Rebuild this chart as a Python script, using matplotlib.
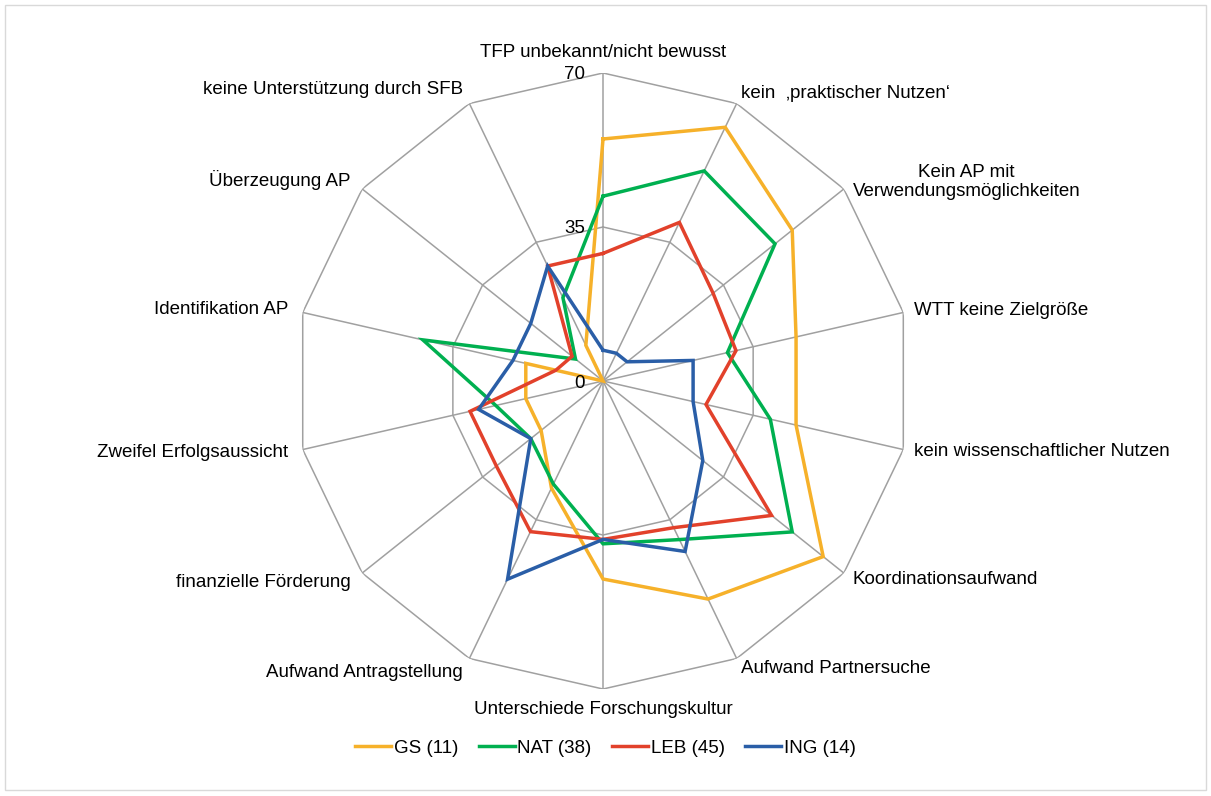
import numpy as np
import matplotlib
matplotlib.use('Agg')
import matplotlib.pyplot as plt
from matplotlib.patches import Rectangle
from matplotlib.transforms import offset_copy

plt.rcParams['font.family'] = ['Liberation Sans', 'DejaVu Sans']

categories = [
    'TFP unbekannt/nicht bewusst',
    'kein  \u201apraktischer Nutzen\u2018',
    'Kein AP mit\nVerwendungsmöglichkeiten',
    'WTT keine Zielgröße',
    'kein wissenschaftlicher Nutzen',
    'Koordinationsaufwand',
    'Aufwand Partnersuche',
    'Unterschiede Forschungskultur',
    'Aufwand Antragstellung',
    'finanzielle Förderung',
    'Zweifel Erfolgsaussicht',
    'Identifikation AP',
    'Überzeugung AP',
    'keine Unterstützung durch SFB',
]

gs = [55, 64, 55, 45, 45, 64, 55, 45, 27, 18, 18, 18, 0, 9]
nat = [42, 53, 50, 29, 39, 55, 40, 37, 26, 21, 25, 42, 8, 21]
leb = [29, 40, 32, 31, 24, 49, 37, 36, 38, 31, 31, 11, 9, 29]
ing = [7, 7, 7, 21, 21, 29, 43, 36, 50, 21, 29, 21, 21, 29]

series_names = ['GS (11)', 'NAT (38)', 'LEB (45)', 'ING (14)']
series_colors = ['#F6B12A', '#00B050', '#E2412B', '#2A5EA7']
ticks = [0, 35, 70]
rmax = 70

n = len(categories)
theta = np.arange(n) * 2 * np.pi / n
theta_closed = np.append(theta, theta[0])

fig = plt.figure(figsize=(12.11, 7.96), dpi=100)
ax = fig.add_axes([0.2436, 0.1344, 0.5087, 0.7739], projection='polar')
ax.set_theta_zero_location('N')
ax.set_theta_direction(-1)
ax.set_ylim(0, rmax)
ax.grid(False)
ax.spines['polar'].set_visible(False)
ax.set_xticks([])
ax.set_yticks([])
ax.patch.set_visible(False)

grid_color = '#A0A0A0'
for r in ticks[1:]:
    ax.plot(theta_closed, [r] * (n + 1), color=grid_color, lw=1.1, zorder=1)
for t in theta:
    ax.plot([t, t], [0, rmax], color=grid_color, lw=1.1, zorder=1)

for vals, name, col in zip([gs, nat, leb, ing], series_names, series_colors):
    ax.plot(theta_closed, vals + vals[:1], color=col, lw=2.5, label=name,
            zorder=3, solid_joinstyle='miter')

# radial tick labels
for r in ticks:
    tr = offset_copy(ax.transData, fig=fig, x=-18, y=-2, units='dots')
    ax.text(0, r, str(r), transform=tr, ha='right', va='center',
            fontsize=13.5, color='#000000')

# category labels
for t, lab in zip(theta, categories):
    s, c = np.sin(t), np.cos(t)
    if abs(s) < 1e-6:
        pad = 20
        ha = 'center'
    elif s > 0:
        pad = 11
        ha = 'left'
    else:
        pad = 15
        ha = 'right'
    tr = offset_copy(ax.transData, fig=fig, x=pad * s, y=pad * c, units='dots')
    ax.text(t, rmax, lab, transform=tr, ha=ha, va='center', fontsize=13.5,
            multialignment='center', color='#000000')

fig.legend(loc='center', bbox_to_anchor=(0.5, 1 - 748 / 796), ncol=4,
           frameon=False, fontsize=13.5, handlelength=1.9, handletextpad=0.15,
           columnspacing=1.1)

fig.patches.append(Rectangle((5 / 1211, 6 / 796), 1201 / 1211, 785 / 796,
                             transform=fig.transFigure, fill=False,
                             edgecolor='#D9D9D9', lw=1))

fig.savefig('out.png', dpi=100)
